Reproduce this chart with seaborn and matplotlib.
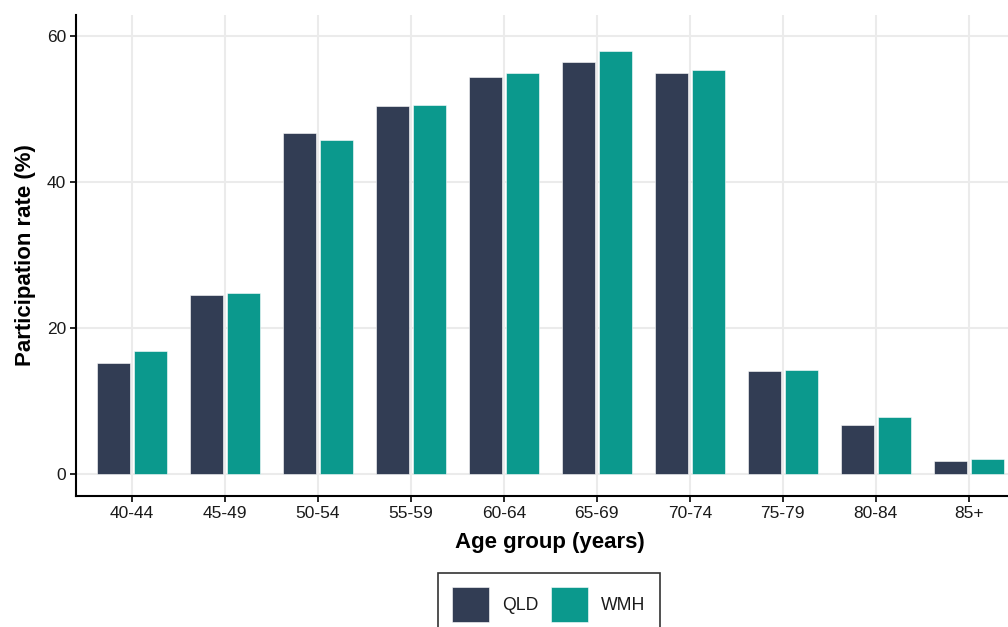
import pandas as pd
import numpy as np
import matplotlib
matplotlib.use('Agg')
import matplotlib.pyplot as plt
import seaborn as sns
from matplotlib.patches import Patch

# Data
age_groups = ['40-44', '45-49', '50-54', '55-59', '60-64',
              '65-69', '70-74', '75-79', '80-84', '85+']
qld = [15.2, 24.5, 46.7, 50.5, 54.4, 56.5, 54.9, 14.1, 6.7, 1.75]
wmh = [16.9, 24.85, 45.75, 50.6, 54.9, 57.9, 55.4, 14.3, 7.85, 2.05]
regions = ['QLD', 'WMH']
colors = ['#323D54', '#0B998D']

df = pd.DataFrame({
    'age': age_groups * 2,
    'rate': qld + wmh,
    'region': ['QLD'] * len(qld) + ['WMH'] * len(wmh),
})

sns.set_style('white')
plt.rcParams['font.family'] = ['Liberation Sans', 'DejaVu Sans']

fig = plt.figure(figsize=(10.08, 6.27), dpi=100)
ax = fig.add_axes([76 / 1008, 1 - 496 / 627, 948.6 / 1008, 481 / 627])

sns.barplot(data=df, x='age', y='rate', hue='region', order=age_groups,
            hue_order=regions, palette=colors, saturation=1, width=0.8, gap=0.12,
            edgecolor='#FFFFFF', linewidth=0.4, legend=False, ax=ax, zorder=3)

ax.set_xlim(-0.6, 9.6)
ax.set_ylim(-3.0, 62.9)
ax.set_yticks([0, 20, 40, 60])

ax.grid(True, color='#EBEBEB', linewidth=1.5, zorder=0)
ax.set_axisbelow(True)

for s in ['top', 'right']:
    ax.spines[s].set_visible(False)
for s in ['left', 'bottom']:
    ax.spines[s].set_color('black')
    ax.spines[s].set_linewidth(1.5)

ax.tick_params(axis='both', which='major', length=4, width=1.2, color='black',
               labelsize=12.5, labelcolor='#1A1A1A', left=True, bottom=True, pad=3)

ax.set_xlabel('Age group (years)', fontsize=16, fontweight='bold', labelpad=8, color='black')
ax.set_ylabel('Participation rate (%)', fontsize=16, fontweight='bold', labelpad=8, color='black')

handles = [Patch(facecolor=c, edgecolor='#FFFFFF', linewidth=0.4) for c in colors]
leg = fig.legend(handles, regions, loc='upper center', ncol=2,
                 bbox_to_anchor=(549 / 1008, 1 - 573 / 627),
                 fontsize=12.7, frameon=True, fancybox=False,
                 handlelength=2.1, handleheight=2.7, handletextpad=0.73,
                 columnspacing=0.73, borderpad=0.8, borderaxespad=0)
leg.get_frame().set_edgecolor('black')
leg.get_frame().set_linewidth(1.2)
for t in leg.get_texts():
    t.set_color('#1A1A1A')

fig.savefig('out.png', dpi=100)
